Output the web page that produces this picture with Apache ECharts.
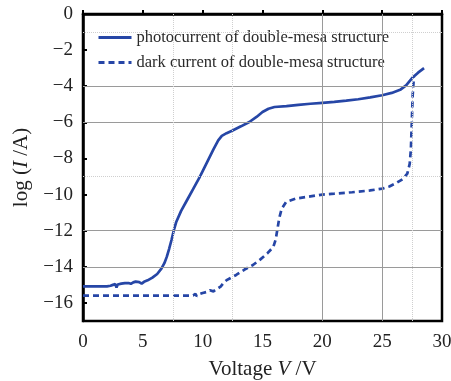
<!DOCTYPE html>
<html><head><meta charset="utf-8">
<script src="https://cdn.jsdelivr.net/npm/echarts@6/dist/echarts.min.js"></script>
<style>html,body{margin:0;padding:0;background:#fff}#c{width:451px;height:381px}</style>
</head><body><div id="c"></div>
<script>
const seriesNames = ['photocurrent of double-mesa structure', 'dark current of double-mesa structure'];
const xTicks = [0, 5, 10, 15, 20, 25, 30];
const yTicks = [0, -2, -4, -6, -8, -10, -12, -14, -16];
const gridX = [20, 25];
const gridXMinor = [7.5, 12.5, 27.5];
const gridY = [-4, -6, -12, -14];
const gridYMinor = [-1, -9];
const photo = [[0,-15.08],[1.0,-15.08],[2.0,-15.08],[2.3,-15.05],[2.5,-15.0],[2.6,-15.08],[2.7,-14.96],[2.8,-15.14],[2.9,-14.98],[3.0,-15.04],[3.2,-14.93],[3.3,-15.0],[3.5,-14.9],[3.6,-14.97],[3.8,-14.9],[4.0,-14.94],[4.2,-14.86],[4.4,-14.82],[4.5,-14.9],[4.7,-14.85],[4.9,-14.93],[5.1,-14.83],[5.4,-14.75],[5.8,-14.6],[6.2,-14.4],[6.55,-14.1],[6.8,-13.8],[7.0,-13.45],[7.2,-13.0],[7.4,-12.5],[7.6,-11.95],[7.8,-11.5],[8.2,-10.9],[8.7,-10.3],[9.2,-9.7],[9.75,-9.03],[10.3,-8.3],[10.9,-7.5],[11.3,-7.0],[11.6,-6.75],[12.0,-6.6],[12.5,-6.45],[13.2,-6.22],[13.9,-5.98],[14.5,-5.7],[15.0,-5.43],[15.5,-5.25],[16.0,-5.15],[17.0,-5.1],[18.0,-5.03],[19.0,-4.97],[20.0,-4.92],[21.0,-4.87],[22.0,-4.8],[23.0,-4.72],[24.0,-4.62],[25.0,-4.5],[25.8,-4.37],[26.5,-4.2],[27.0,-3.95],[27.5,-3.55],[28.0,-3.25],[28.5,-3.0]];
const dark = [[0,-15.6],[8.9,-15.6],[9.2,-15.58],[9.4,-15.5],[9.5,-15.63],[9.7,-15.52],[10.0,-15.45],[10.3,-15.4],[10.6,-15.3],[10.9,-15.36],[11.2,-15.22],[11.5,-15.1],[11.8,-14.85],[12.0,-14.74],[12.8,-14.45],[13.5,-14.15],[14.2,-13.9],[14.8,-13.6],[15.4,-13.26],[15.9,-12.9],[16.1,-12.5],[16.25,-11.9],[16.4,-11.3],[16.6,-10.8],[16.97,-10.41],[17.8,-10.22],[19.0,-10.1],[20.0,-10.0],[21.0,-9.95],[22.5,-9.87],[24.0,-9.77],[25.0,-9.67],[25.6,-9.55],[26.1,-9.39],[26.7,-9.15],[27.1,-8.84],[27.3,-8.3],[27.4,-7.5],[27.45,-6.5],[27.5,-5.5],[27.55,-4.5],[27.65,-3.5]];

const FONT = '"Liberation Serif", "DejaVu Serif", serif';
const BLUE = '#2646a6';
const chart = echarts.init(document.getElementById('c'));
const ml = (arr, key, color, type) => arr.map(v => ({[key]: v, lineStyle: {color: color, type: type, width: 1}}));
chart.setOption({
  animation: false,
  grid: {left: 83, right: 9, top: 14, bottom: 60, show: true, borderColor: '#000', borderWidth: 2.5, backgroundColor: 'transparent',
    containLabel: false, outerBoundsMode: 'none'},
  legend: {
    data: seriesNames, orient: 'vertical', left: 92, top: 24, itemWidth: 33, itemHeight: 16, itemGap: 8,
    itemStyle: {opacity: 0}, lineStyle: {width: 3},
    textStyle: {fontFamily: FONT, fontSize: 16.5, color: '#2a2a2a'}
  },
  xAxis: {
    type: 'value', min: 0, max: 30,
    axisLine: {show: true, lineStyle: {color: '#000', width: 2.5}},
    axisTick: {show: true, inside: true, length: 4, lineStyle: {color: '#000', width: 2}, customValues: xTicks},
    axisLabel: {fontFamily: FONT, fontSize: 19, color: '#222', margin: 12, customValues: xTicks},
    splitLine: {show: false},
    name: '{n|Voltage }{i|V}{n| /V}', nameLocation: 'middle', nameGap: 38,
    nameTextStyle: {rich: {n: {fontFamily: FONT, fontSize: 21, color: '#222'}, i: {fontFamily: FONT, fontSize: 21, fontStyle: 'italic', color: '#222'}}}
  },
  yAxis: {
    type: 'value', min: -17, max: 0,
    axisLine: {show: true, lineStyle: {color: '#000', width: 2.5}},
    axisTick: {show: true, inside: true, length: 4, lineStyle: {color: '#000', width: 2}, customValues: yTicks},
    axisLabel: {fontFamily: FONT, fontSize: 19, color: '#222', margin: 10, customValues: yTicks,
      formatter: v => String(v).replace('-', '\u2212')},
    splitLine: {show: false},
    name: '{n|log (}{i|I}{n| /A)}', nameLocation: 'middle', nameGap: 48, nameRotate: 90,
    nameTextStyle: {rich: {n: {fontFamily: FONT, fontSize: 21, color: '#222'}, i: {fontFamily: FONT, fontSize: 21, fontStyle: 'italic', color: '#222'}}}
  },
  series: [
    {
      name: 'grid', type: 'line', data: [], z: 1, silent: true,
      markLine: {silent: true, symbol: 'none', label: {show: false}, animation: false,
        data: [].concat(ml(gridX, 'xAxis', '#9a9a9a', 'solid'), ml(gridY, 'yAxis', '#9a9a9a', 'solid'),
                         ml(gridXMinor, 'xAxis', '#cfcfcf', 'dotted'), ml(gridYMinor, 'yAxis', '#cfcfcf', 'dotted'))}
    },
    {
      name: seriesNames[0], type: 'line', data: photo, showSymbol: false, symbol: 'none', z: 3,
      lineStyle: {color: BLUE, width: 2.7}, itemStyle: {color: BLUE}
    },
    {
      name: seriesNames[1], type: 'line', data: dark, showSymbol: false, symbol: 'none', z: 3,
      lineStyle: {color: BLUE, width: 2.7, type: [6, 4]}, itemStyle: {color: BLUE}
    }
  ]
});
</script></body></html>
